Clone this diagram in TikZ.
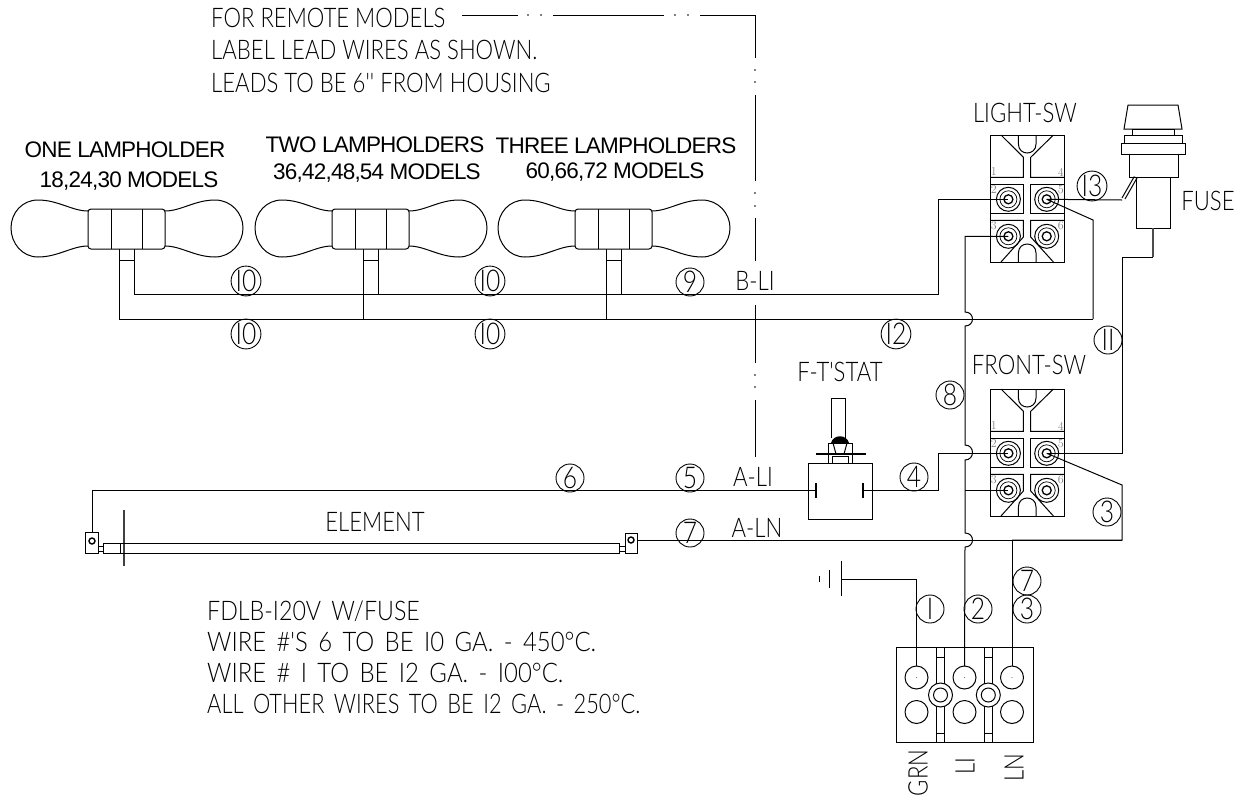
\documentclass[tikz,border=0pt]{standalone}
\usepackage{fontspec}
\newfontfamily\cadfont[FakeStretch=0.82]{Lato Light}
\newfontfamily\notefont[FakeStretch=0.86, WordSpace=1.6]{Lato Light}
\newfontfamily\titlefont[LetterSpace=-3.5]{Liberation Sans}
\tikzset{
	wire/.style={line width=1pt},
	cadtext/.style={font=\cadfont\fontsize{27}{30}\selectfont, inner sep=0pt},
	leadtext/.style={cadtext, anchor=west},
	notetext/.style={font=\notefont\fontsize{27}{30}\selectfont, inner sep=0pt, anchor=west},
	lamptitle/.style={font=\titlefont\fontsize{22.5}{26}\selectfont, inner sep=0pt},
	wirenum/.style={circle, draw, line width=0.9pt, inner sep=0pt, minimum size=28pt, font=\cadfont\fontsize{30}{32}\selectfont},
	pinnum/.style={font=\fontsize{12}{13}\selectfont, text=gray, inner sep=0pt},
	lampholder/.pic={
		\draw[wire] (88,211) .. controls (72,211) and (58,200) .. (38,200) .. controls (22,200) and (11,213) .. (11,228) .. controls (11,243) and (22,257) .. (38,257) .. controls (58,257) and (72,246) .. (88,246);
		\draw[wire] (165,211) .. controls (181,211) and (195,200) .. (215,200) .. controls (231,200) and (243,213) .. (243,228) .. controls (243,243) and (231,257) .. (215,257) .. controls (195,257) and (181,246) .. (165,246);
		\draw[wire, rounded corners=3pt] (88,209) rectangle (165,249);
		\draw[wire] (111.5,209) -- (111.5,249);
		\draw[wire] (142,209) -- (142,249);
		\draw[wire] (119.5,260) -- (134.5,260);
		\coordinate (-a) at (119.5,249);
		\coordinate (-b) at (134.5,249);
	},
	swblock/.pic={
		\draw[wire] (0,0) rectangle (73.3,127);
		\draw[wire] (10.3,0) -- (32.7,22.3) -- (32.7,42.3) -- (0,42.3);
		\draw[wire] (62.7,0) -- (40,22.3) -- (40,42.3) -- (73.3,42.3);
		\draw[wire] (27.7,0) -- (27.7,9) .. controls (27.7,21) and (45.3,21) .. (45.3,9) -- (45.3,0);
		\draw[wire] (0,49) -| (32.7,78.7) -- (0,78.7);
		\draw[wire] (73.3,49) -| (40,78.7) -- (73.3,78.7);
		\draw[wire] (0,85.3) -| (32.7,102) -- (10.3,127);
		\draw[wire] (73.3,85.3) -| (40,102) -- (62.7,127);
		\draw[wire] (27.7,127) -- (27.7,118) .. controls (27.7,106) and (45.3,106) .. (45.3,118) -- (45.3,127);
		\foreach \px/\py/\pn in {17.7/64.3/t2, 56/64.3/t5, 17.7/101.3/t3, 56/101.3/t6} {
			\draw[wire] (\px,\py) circle (12);
			\draw[line width=.7pt] (\px,\py) circle (8.5);
			\draw[line width=1.3pt] (\px,\py) circle (4.5);
			\coordinate (-\pn) at (\px,\py);
		}
		\node[pinnum] (-n1) at (3,37) {1};
		\node[pinnum] (-n4) at (70,37) {4};
		\node[pinnum] (-n2) at (3,55) {2};
		\node[pinnum] (-n5) at (70,55) {5};
		\node[pinnum] (-n3) at (3,91) {3};
		\node[pinnum] (-n6) at (70,91) {6};
	}
}
\begin{document}
\begin{tikzpicture}[x=1pt, y=-1pt]
	\useasboundingbox (0,0) rectangle (1247,803);
	% notes
	\node[leadtext] (remote) at (211,18) {FOR REMOTE MODELS};
	\node[leadtext] (label) at (211,50) {LABEL LEAD WIRES AS SHOWN.};
	\node[leadtext] (leads) at (211,83) {LEADS TO BE 6'' FROM HOUSING};
	\node[notetext] (fdlb) at (207,611) {FDLB-I20V W/FUSE};
	\node[notetext] (ga10) at (207,642) {\scalebox{1.03}[1]{WIRE \#'S 6 TO BE I0 GA. - 450°C.}};
	\node[notetext] (ga12) at (207,673) {\scalebox{1.03}[1]{WIRE \# I TO BE I2 GA. - I00°C.}};
	\node[notetext] (others) at (207,704) {\scalebox{.94}[1]{ALL OTHER WIRES TO BE I2 GA. - 250°C.}};
	\node[lamptitle] (one) at (125,150) {ONE LAMPHOLDER};
	\node[lamptitle] (onem) at (129,181) {18,24,30 MODELS};
	\node[lamptitle] (two) at (375,145) {TWO LAMPHOLDERS};
	\node[lamptitle] (twom) at (377,173) {36,42,48,54 MODELS};
	\node[lamptitle] (three) at (616,146) {THREE LAMPHOLDERS};
	\node[lamptitle] (threem) at (615,172) {60,66,72 MODELS};
	\node[cadtext] (lightname) at (1025,113) {LIGHT-SW};
	\node[cadtext] (frontname) at (1029,365) {FRONT-SW};
	\node[cadtext] (fusename) at (1208,201) {FUSE};
	\node[cadtext] (tstatname) at (840,372) {F-T'STAT};
	\node[cadtext] (element) at (375,522) {ELEMENT};
	\node[cadtext] (bli) at (755,281) {B-LI};
	\node[cadtext] (ali) at (753,477) {A-LI};
	\node[cadtext] (aln) at (757,528) {A-LN};
	\node[cadtext, rotate=90] (grn) at (918,773) {GRN};
	\node[cadtext, rotate=90] (li) at (965,766) {LI};
	\node[cadtext, rotate=90] (ln) at (1014,768) {LN};
	% dash dot lead
	\draw[wire] (462,15) -- (518,15);
	\draw[wire] (553,15) -- (664,15);
	\draw[wire] (700,15) -- (755,15) -- (755,58);
	\draw[wire] (755,95) -- (755,181);
	\draw[wire] (755,218) -- (755,261);
	\draw[wire] (755,305) -- (755,363);
	\draw[wire] (755,400) -- (755,457);
	\fill (528,15) circle (.8) (541,15) circle (.8) (675,15) circle (.8) (688,15) circle (.8);
	\fill (755,70) circle (.8) (755,82) circle (.8) (755,193) circle (.8) (755,206) circle (.8) (755,375) circle (.8) (755,387) circle (.8);
	% lamps
	\pic (lamp1) at (0,0) {lampholder};
	\pic (lamp2) at (244,0) {lampholder};
	\pic (lamp3) at (487,0) {lampholder};
	% switches
	\pic (lightsw) at (990.7,135) {swblock};
	\pic (frontsw) at (990.7,389) {swblock};
	% fuse
	\draw[wire] (1128,105) -- (1178,105) -- (1182,129) -- (1124,129) -- cycle;
	\draw[wire] (1132,129) rectangle (1174,135);
	\draw[wire] (1124,135) rectangle (1182,143);
	\draw[wire] (1121,143) rectangle (1185,154);
	\draw[wire] (1129,154) rectangle (1178,177);
	\draw[wire] (1136,177) rectangle (1170,228);
	\draw[wire] (1122,198) -- (1134,177) -- (1137,178) -- (1125,199);
	\coordinate (fusetab) at (1122,200);
	\coordinate (fuselead) at (1153,228);
	% thermostat
	\draw[wire] (808,463) rectangle (872,519);
	\draw[line width=1.6pt] (816,483) -- (816,498);
	\draw[line width=2pt] (862.7,483) -- (862.7,498);
	\draw[wire] (831,398) -- (845,398) -- (845,438) (831,398) -- (831,438);
	\draw[wire] (828,463) -- (828,443) -- (852,443) -- (852,463);
	\fill (831,443) .. controls (833,434) and (847,434) .. (849,443) -- cycle;
	\draw[line width=1.8pt] (816,454) -- (866,454);
	\draw[wire] (833,443) -- (836,454) -- (844,454) -- (847,443);
	\draw[wire] (832,463) -- (832,456) -- (848,456) -- (848,463);
	\coordinate (tstatl) at (816,490.7);
	\coordinate (tstatr) at (862.7,490.7);
	% element
	\draw[wire] (85.7,532) rectangle (98,553);
	\draw[line width=1.4pt] (92,541) circle (3);
	\draw[wire] (98,546) -- (103,546) (98,551) -- (103,551) (103,543) rectangle (120,553);
	\draw[line width=2.4pt, black!75] (124,510) -- (124,566);
	\draw[wire] (120,543) -- (619,543) (120,553) -- (619,553) -- (619,543);
	\draw[wire] (619,546) -- (625,546) (619,551) -- (625,551);
	\draw[wire] (625,533) rectangle (637,553);
	\draw[line width=1.4pt] (631,540) circle (3);
	\coordinate (elemleft) at (92,532);
	\coordinate (elemright) at (637,540);
	% terminal block
	\draw[wire] (896,647) rectangle (1033,742);
	\foreach \tx/\tn in {916.5/a, 964.5/b, 1012/c} {
		\draw[wire] (\tx,677.5) circle (11.5);
		\draw[wire] (\tx,712) circle (11.5);
		\fill[gray] (\tx,677.5) circle (.6);
		\coordinate (block\tn) at (\tx,666);
	}
	\foreach \rx in {940.5, 988.3} {
		\draw[wire] (\rx,695) circle (12);
		\draw[wire] (\rx,695) circle (7);
		\draw[wire] (\rx-3.8,647) -- (\rx-3.8,684) (\rx+3.8,647) -- (\rx+3.8,684);
		\draw[wire] (\rx-3.8,706) -- (\rx-3.8,742) (\rx+3.8,706) -- (\rx+3.8,742);
		\draw[wire] (\rx-3.8,657) -- (\rx+3.8,657) (\rx-3.8,733) -- (\rx+3.8,733);
	}
	% ground
	\coordinate (gnd) at (841,579);
	\draw[wire] (841,561) -- (841,596);
	\draw[wire] (829,570) -- (829,588);
	\draw[wire] (819,576) -- (819,582);
	\draw[wire] (gnd) -| (blocka);
	% wiring
	\coordinate (topbus) at (938,294);
	\coordinate (lowbus) at (1093,319);
	\coordinate (a5) at (1093,220);
	\coordinate (a7) at (1122,485);
	\coordinate (a8) at (1122,540);
	\coordinate (a11) at (1122,257);
	\coordinate (a4) at (938,490.7);
	\draw[wire] (lamp1-b) |- (topbus) |- (lightsw-t2);
	\draw[wire] (lamp2-b) -- (lamp2-b |- topbus);
	\draw[wire] (lamp3-b) -- (lamp3-b |- topbus);
	\draw[wire] (lamp1-a) |- (lowbus);
	\draw[wire] (lamp2-a) -- (lamp2-a |- lowbus);
	\draw[wire] (lamp3-a) -- (lamp3-a |- lowbus);
	\draw[wire] (lightsw-t5) -- (fusetab);
	\draw[wire] (lightsw-t5) -- (a5) -- (lowbus);
	\draw[line width=2pt, gray!60!black] (fuselead) -- (1153,257);
	\draw[wire] (1153,257) -- (a11) -- (1122,453.3) -- (frontsw-t5);
	\draw[wire] (frontsw-t5) -- (a7) -- (a8) -- (1012,540);
	\draw[wire] (1012,540) -- (blockc);
	\draw[wire] (elemright) -- (a8);
	\draw[wire] (tstatr) -- (a4) -- (938,453.3) -- (frontsw-t2);
	\draw[wire] (tstatl) -- (92,490.7) -- (elemleft);
	\draw[wire] (lightsw-t3) -| (965,312) .. controls (975,312) and (975,326) .. (965,326) -- (965,445) .. controls (975,445) and (975,460) .. (965,460) -- (965,533) .. controls (975,533) and (975,547) .. (965,547) -- (blockb);
	\draw[wire] (965,490.3) -- (frontsw-t3);
	% wire numbers
	\node[wirenum] (w10a) at (246,281) {I0};
	\node[wirenum] (w10b) at (246,334) {I0};
	\node[wirenum] (w10c) at (490,281) {I0};
	\node[wirenum] (w10d) at (490,334) {I0};
	\node[wirenum] (w9) at (690,282) {9};
	\node[wirenum] (w12) at (896,334) {I2};
	\node[wirenum] (w11) at (1108,340) {II};
	\node[wirenum] (w8) at (950,395) {8};
	\node[wirenum] (w13) at (1092,186) {I3};
	\node[wirenum] (w4) at (914,477) {4};
	\node[wirenum] (w5) at (690,478) {5};
	\node[wirenum] (w6) at (570,478) {6};
	\node[wirenum] (w7a) at (690,533) {7};
	\node[wirenum] (w3a) at (1107,512) {3};
	\node[wirenum] (w7b) at (1027,581) {7};
	\node[wirenum] (w3b) at (1027,609) {3};
	\node[wirenum] (w1) at (930,609) {I};
	\node[wirenum] (w2) at (978,609) {2};
\end{tikzpicture}
\end{document}
